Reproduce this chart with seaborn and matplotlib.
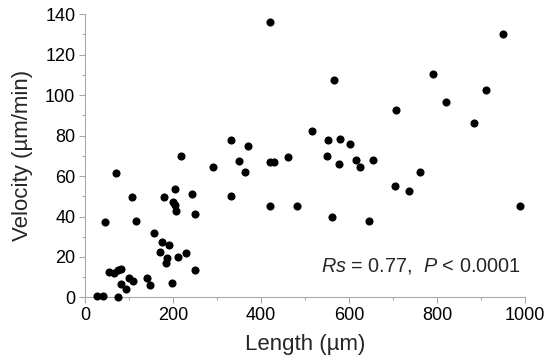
import numpy as np
import pandas as pd
import matplotlib
matplotlib.use("Agg")
import matplotlib.pyplot as plt
import seaborn as sns
from matplotlib.ticker import MultipleLocator

# Length (um) and velocity (um/min)
length = [27, 42, 75, 45, 70, 55, 66, 76, 83, 99, 110, 82, 93, 107, 117,
          142, 148, 158, 176, 190, 170, 186, 184, 197, 180, 205, 199, 205,
          208, 212, 229, 249, 244, 249, 218, 290, 331, 332, 350, 363, 370,
          420, 420, 429, 420, 461, 482, 515, 549, 552, 562, 565, 578, 580,
          603, 616, 626, 646, 654, 704, 707, 737, 762, 791, 820, 884, 912,
          949, 989]
velocity = [0.9, 0.7, 0.4, 37.4, 61.6, 12.4, 12.0, 13.5, 13.9, 9.8, 8.1,
            6.7, 4.2, 49.8, 37.8, 9.5, 6.3, 32.0, 27.4, 26.1, 22.6, 19.4,
            16.9, 7.0, 49.8, 53.7, 47.3, 45.5, 42.5, 20.0, 22.0, 41.1, 51.0,
            13.6, 69.9, 64.6, 50.3, 77.8, 67.6, 62.1, 75.0, 135.9, 66.8,
            67.1, 45.3, 69.5, 45.2, 82.4, 69.9, 77.8, 39.9, 107.2, 65.9,
            78.1, 75.8, 67.9, 64.3, 38.0, 67.9, 55.3, 92.4, 52.4, 61.8,
            110.4, 96.7, 86.3, 102.3, 130.0, 45.4]

df = pd.DataFrame({"Length": length, "Velocity": velocity})

sns.set_style("ticks")
plt.rcParams["font.family"] = ["Liberation Sans", "DejaVu Sans"]
plt.rcParams["mathtext.fontset"] = "custom"
plt.rcParams["mathtext.rm"] = "Liberation Sans"
plt.rcParams["mathtext.it"] = "Liberation Sans:italic"

grey = "#a8a8a8"

fig = plt.figure(figsize=(5.5, 3.64), dpi=100)
ax = fig.add_axes([0.1545, 0.1827, 0.8, 0.7788])

sns.scatterplot(data=df, x="Length", y="Velocity", color="black", s=34,
                linewidth=0, ax=ax, clip_on=False, zorder=3)

ax.set_xlim(0, 1000)
ax.set_ylim(0, 140)
ax.xaxis.set_major_locator(MultipleLocator(200))
ax.xaxis.set_minor_locator(MultipleLocator(100))
ax.yaxis.set_major_locator(MultipleLocator(20))
ax.yaxis.set_minor_locator(MultipleLocator(10))

for side in ["top", "right"]:
    ax.spines[side].set_visible(False)
for side in ["left", "bottom"]:
    ax.spines[side].set_color(grey)
    ax.spines[side].set_linewidth(0.8)

ax.tick_params(which="major", length=4, width=0.8, color=grey,
               labelsize=13, labelcolor="black", pad=3)
ax.tick_params(which="minor", length=2.5, width=0.8, color=grey)

ax.set_xlabel("Length (µm)", fontsize=16, labelpad=7)
ax.set_ylabel("Velocity (µm/min)", fontsize=16, labelpad=9)

ax.text(990, 15.5, r"$\mathit{Rs}$ = 0.77,  $\mathit{P}$ < 0.0001",
        ha="right", va="center", fontsize=14.3)

fig.savefig("out.png", dpi=100)
